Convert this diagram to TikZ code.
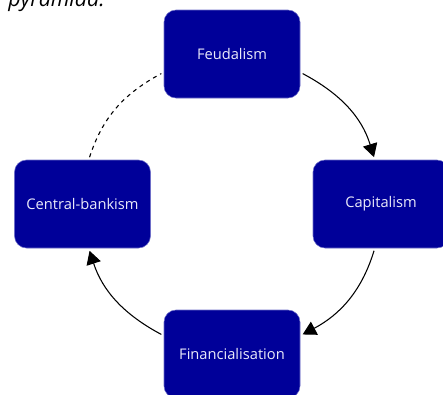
\documentclass[tikz,border=0pt]{standalone}
\usepackage{fontspec}
\setmainfont{Open Sans}
\usetikzlibrary{arrows.meta}

\definecolor{boxblue}{RGB}{0,0,153}
\definecolor{boxedge}{RGB}{110,110,200}
\definecolor{boxtext}{RGB}{235,235,250}

\tikzset{
    stage/.style={draw=boxedge, fill=boxblue, text=boxtext, rounded corners=9pt,
        minimum width=102pt, minimum height=66pt, font=\fontsize{11}{13}\selectfont},
    cycle/.style={line width=0.8pt, -{Triangle[length=10pt, width=11pt]}, shorten >=2pt, shorten <=2pt}
}

\begin{document}
\begin{tikzpicture}[x=0.75pt, y=-0.75pt]
    \useasboundingbox (0,0) rectangle (443,394);
    \node[anchor=base west, font=\itshape\fontsize{16}{19}\selectfont, inner sep=0pt] (caption) at (8,6) {pyramida.};
    \node[stage] (feud) at (232,54) {Feudalism};
    \node[stage] (cap) at (381,204) {Capitalism};
    \node[stage] (fin) at (232,354) {Financialisation};
    \node[stage] (cb) at (82.5,204) {Central-bankism};
    \draw[cycle] (feud.-15) to[out=-28, in=107] (cap.98);
    \draw[cycle] (cap.-98) to[out=-107, in=28] (fin.15);
    \draw[cycle] (fin.165) to[out=152, in=-72] (cb.-82);
    \draw[cycle, -, dashed] (cb.82) to[out=72, in=-152] (feud.195);
\end{tikzpicture}
\end{document}
